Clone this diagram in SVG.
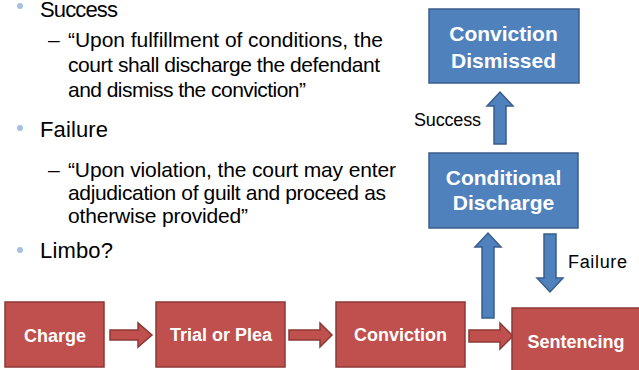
<svg xmlns="http://www.w3.org/2000/svg" width="639" height="370" viewBox="0 0 639 370">
<style>
.red{fill:#C0504D;stroke:#8C3836;stroke-width:1.5}
.blue{fill:#4F81BD;stroke:#385D8A;stroke-width:1.5}
.bt{font-family:"Liberation Sans",Arial,sans-serif;font-weight:bold;fill:#fff;text-anchor:middle}
.tx{font-family:"Liberation Sans",Arial,sans-serif;fill:#000}
.bul{fill:#A7BFDE}
</style>
<rect width="639" height="370" fill="#fff"/>
<g id="bullets">
<circle class="bul" cx="20" cy="6" r="3"/>
<text class="tx" x="40" y="16.5" font-size="22" textLength="78">Success</text>
<text class="tx" x="48" y="47" font-size="21">–</text>
<text class="tx" x="68" y="47" font-size="21" textLength="315">“Upon fulfillment of conditions, the</text>
<text class="tx" x="68" y="72" font-size="21" textLength="312">court shall discharge the defendant</text>
<text class="tx" x="68" y="97" font-size="21" textLength="238">and dismiss the conviction”</text>
<circle class="bul" cx="20" cy="128" r="3"/>
<text class="tx" x="40" y="137" font-size="22" textLength="68">Failure</text>
<text class="tx" x="48" y="177" font-size="21">–</text>
<text class="tx" x="68" y="177" font-size="21" textLength="328">“Upon violation, the court may enter</text>
<text class="tx" x="68" y="200" font-size="21" textLength="318">adjudication of guilt and proceed as</text>
<text class="tx" x="68" y="223" font-size="21" textLength="180">otherwise provided”</text>
<circle class="bul" cx="20" cy="250" r="3"/>
<text class="tx" x="40" y="258" font-size="22" textLength="73">Limbo?</text>
</g>
<g id="connectors">
<polygon class="red" points="110,330 138,330 138,323 152,335 138,347 138,340 110,340"/>
<polygon class="red" points="289,330 320,330 320,323 332,335 320,347 320,340 289,340"/>
<polygon class="red" points="469,330 500,330 500,323 513,336 500,349 500,342 469,342"/>
<polygon class="blue" points="482,318 482,247 475,247 488,233 501,247 494,247 494,318"/>
<polygon class="blue" points="494,144 494,106 487,106 500,92 513,106 506,106 506,144"/>
<polygon class="blue" points="544,234 556,234 556,278 563,278 550,292 537,278 544,278"/>
<text class="tx" x="414" y="126" font-size="18" textLength="67">Success</text>
<text class="tx" x="568" y="268" font-size="18" textLength="59">Failure</text>
</g>
<g id="charge">
<rect class="red" x="5" y="302" width="99" height="65"/>
<text class="bt" x="55" y="342" font-size="18">Charge</text>
</g>
<g id="trial">
<rect class="red" x="156" y="302" width="129" height="65"/>
<text class="bt" x="221" y="341" font-size="18">Trial or Plea</text>
</g>
<g id="conviction">
<rect class="red" x="336" y="302" width="129" height="65"/>
<text class="bt" x="400.5" y="341" font-size="18">Conviction</text>
</g>
<g id="sentencing">
<rect class="red" x="512" y="308" width="130" height="66"/>
<text class="bt" x="576" y="348" font-size="18">Sentencing</text>
</g>
<g id="conditional">
<rect class="blue" x="429" y="153" width="149" height="75"/>
<text class="bt" x="503.5" y="185" font-size="21">Conditional</text>
<text class="bt" x="503.5" y="210" font-size="21">Discharge</text>
</g>
<g id="dismissed">
<rect class="blue" x="429" y="9" width="150" height="74"/>
<text class="bt" x="503.5" y="41" font-size="21">Conviction</text>
<text class="bt" x="503.5" y="68" font-size="21">Dismissed</text>
</g>
</svg>
